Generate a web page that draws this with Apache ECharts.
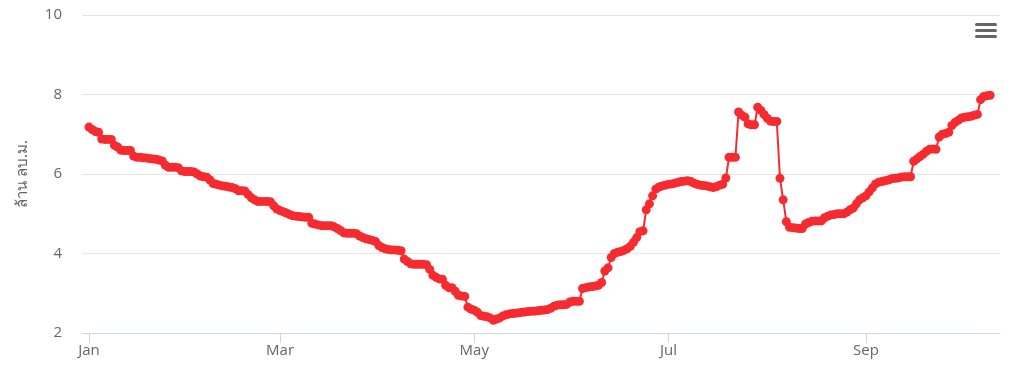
<!DOCTYPE html>
<html>
<head>
<meta charset="utf-8">
<script src="https://cdn.jsdelivr.net/npm/echarts@6/dist/echarts.min.js"></script>
<style>
html,body{margin:0;padding:0;background:#fff;}
#chart{width:1015px;height:371px;}
</style>
</head>
<body>
<div id="chart"></div>
<script>
// Daily series starting 2024-01-01 (ล้าน ลบ.ม.)
const startDate = [2024, 0, 1];
const values = [
7.18,7.12,7.07,7.05,6.88,6.87,6.87,6.87,6.72,6.68,
6.60,6.59,6.59,6.59,6.45,6.42,6.42,6.41,6.40,6.39,
6.38,6.37,6.35,6.33,6.22,6.17,6.17,6.17,6.16,6.08,
6.06,6.06,6.06,6.05,6.00,5.95,5.93,5.92,5.85,5.76,
5.74,5.72,5.70,5.69,5.67,5.66,5.63,5.58,5.58,5.57,
5.48,5.40,5.35,5.31,5.31,5.31,5.31,5.30,5.20,5.12,
5.08,5.05,5.02,4.98,4.95,4.94,4.93,4.92,4.91,4.91,
4.76,4.74,4.72,4.70,4.70,4.70,4.70,4.67,4.63,4.58,
4.52,4.51,4.51,4.51,4.50,4.44,4.40,4.37,4.35,4.33,
4.30,4.20,4.15,4.12,4.10,4.09,4.09,4.08,4.07,3.86,
3.80,3.74,3.73,3.73,3.73,3.73,3.72,3.60,3.45,3.40,
3.36,3.35,3.20,3.14,3.14,3.05,2.95,2.93,2.92,2.65,
2.60,2.57,2.52,2.44,2.42,2.41,2.38,2.32,2.35,2.38,
2.43,2.46,2.48,2.49,2.50,2.51,2.52,2.53,2.54,2.55,
2.55,2.56,2.57,2.58,2.59,2.62,2.67,2.70,2.71,2.71,
2.72,2.78,2.80,2.80,2.80,3.12,3.14,3.16,3.17,3.18,
3.20,3.27,3.56,3.64,3.90,4.00,4.03,4.05,4.08,4.12,
4.18,4.28,4.40,4.55,4.57,5.10,5.25,5.45,5.62,5.67,
5.70,5.72,5.74,5.75,5.77,5.79,5.81,5.82,5.83,5.81,
5.77,5.74,5.72,5.71,5.70,5.68,5.66,5.68,5.72,5.74,
5.90,6.42,6.42,6.42,7.56,7.48,7.43,7.26,7.24,7.24,
7.68,7.60,7.50,7.40,7.33,7.32,7.32,5.89,5.35,4.80,
4.66,4.65,4.64,4.63,4.63,4.74,4.78,4.81,4.82,4.82,
4.82,4.90,4.94,4.97,4.98,5.00,5.00,5.00,5.04,5.10,
5.14,5.25,5.35,5.40,5.45,5.55,5.65,5.75,5.79,5.81,
5.83,5.85,5.88,5.89,5.90,5.92,5.93,5.93,5.93,6.32,
6.38,6.44,6.50,6.57,6.62,6.63,6.62,6.93,7.00,7.02,
7.05,7.22,7.30,7.35,7.41,7.43,7.44,7.45,7.48,7.50,
7.87,7.95,7.97,7.98
];
const monthTickDates = [[2024,0,1],[2024,2,1],[2024,4,1],[2024,6,1],[2024,8,1]];
const monthTickLabels = ['Jan','Mar','May','Jul','Sep'];
const yTitle = 'ล้าน ลบ.ม.';

const DAY = 86400000;
const t0 = new Date(startDate[0], startDate[1], startDate[2]).getTime();
const seriesData = values.map((v, i) => [t0 + i * DAY, v]);
const tickTimes = monthTickDates.map(d => new Date(d[0], d[1], d[2]).getTime());
function monthLabel(val) {
  for (let i = 0; i < tickTimes.length; i++) {
    if (Math.abs(tickTimes[i] - val) < DAY / 2) return monthTickLabels[i];
  }
  return '';
}

const chart = echarts.init(document.getElementById('chart'), null, {renderer: 'canvas'});
chart.setOption({
  animation: false,
  backgroundColor: '#ffffff',
  grid: {left: 82, right: 15, top: 15, bottom: 38, containLabel: false},
  xAxis: {
    type: 'value',
    min: t0 - 2.2 * DAY,
    max: t0 + 286.1 * DAY,
    axisLine: {show: true, lineStyle: {color: '#ccd6eb', width: 1}},
    axisTick: {show: true, customValues: tickTimes, length: 10, lineStyle: {color: '#ccd6eb'}},
    axisLabel: {
      show: true, customValues: tickTimes, color: '#666666', fontSize: 15,
      fontFamily: '"Open Sans", sans-serif', margin: 10,
      formatter: monthLabel
    },
    splitLine: {show: false}
  },
  yAxis: {
    type: 'value',
    min: 2, max: 10, interval: 2,
    name: yTitle,
    nameLocation: 'middle',
    nameGap: 52,
    nameRotate: 90,
    nameTextStyle: {color: '#666666', fontSize: 15, fontFamily: '"Noto Sans", "Open Sans", sans-serif'},
    axisLine: {show: false},
    axisTick: {show: false},
    axisLabel: {color: '#666666', fontSize: 15, fontFamily: '"Open Sans", sans-serif', margin: 20},
    splitLine: {lineStyle: {color: '#e6e6e6', width: 1}}
  },
  series: [{
    type: 'line',
    data: seriesData,
    symbol: 'circle',
    symbolSize: 9,
    showSymbol: true,
    showAllSymbol: true,
    lineStyle: {color: '#f52b2f', width: 2},
    itemStyle: {color: '#f52b2f', borderWidth: 0},
    emphasis: {disabled: true}
  }],
  graphic: [
    {type: 'rect', left: 975, top: 23, shape: {width: 22, height: 3, r: 1.5}, style: {fill: '#666666'}},
    {type: 'rect', left: 975, top: 29, shape: {width: 22, height: 3, r: 1.5}, style: {fill: '#666666'}},
    {type: 'rect', left: 975, top: 35, shape: {width: 22, height: 3, r: 1.5}, style: {fill: '#666666'}}
  ]
});
</script>
</body>
</html>
